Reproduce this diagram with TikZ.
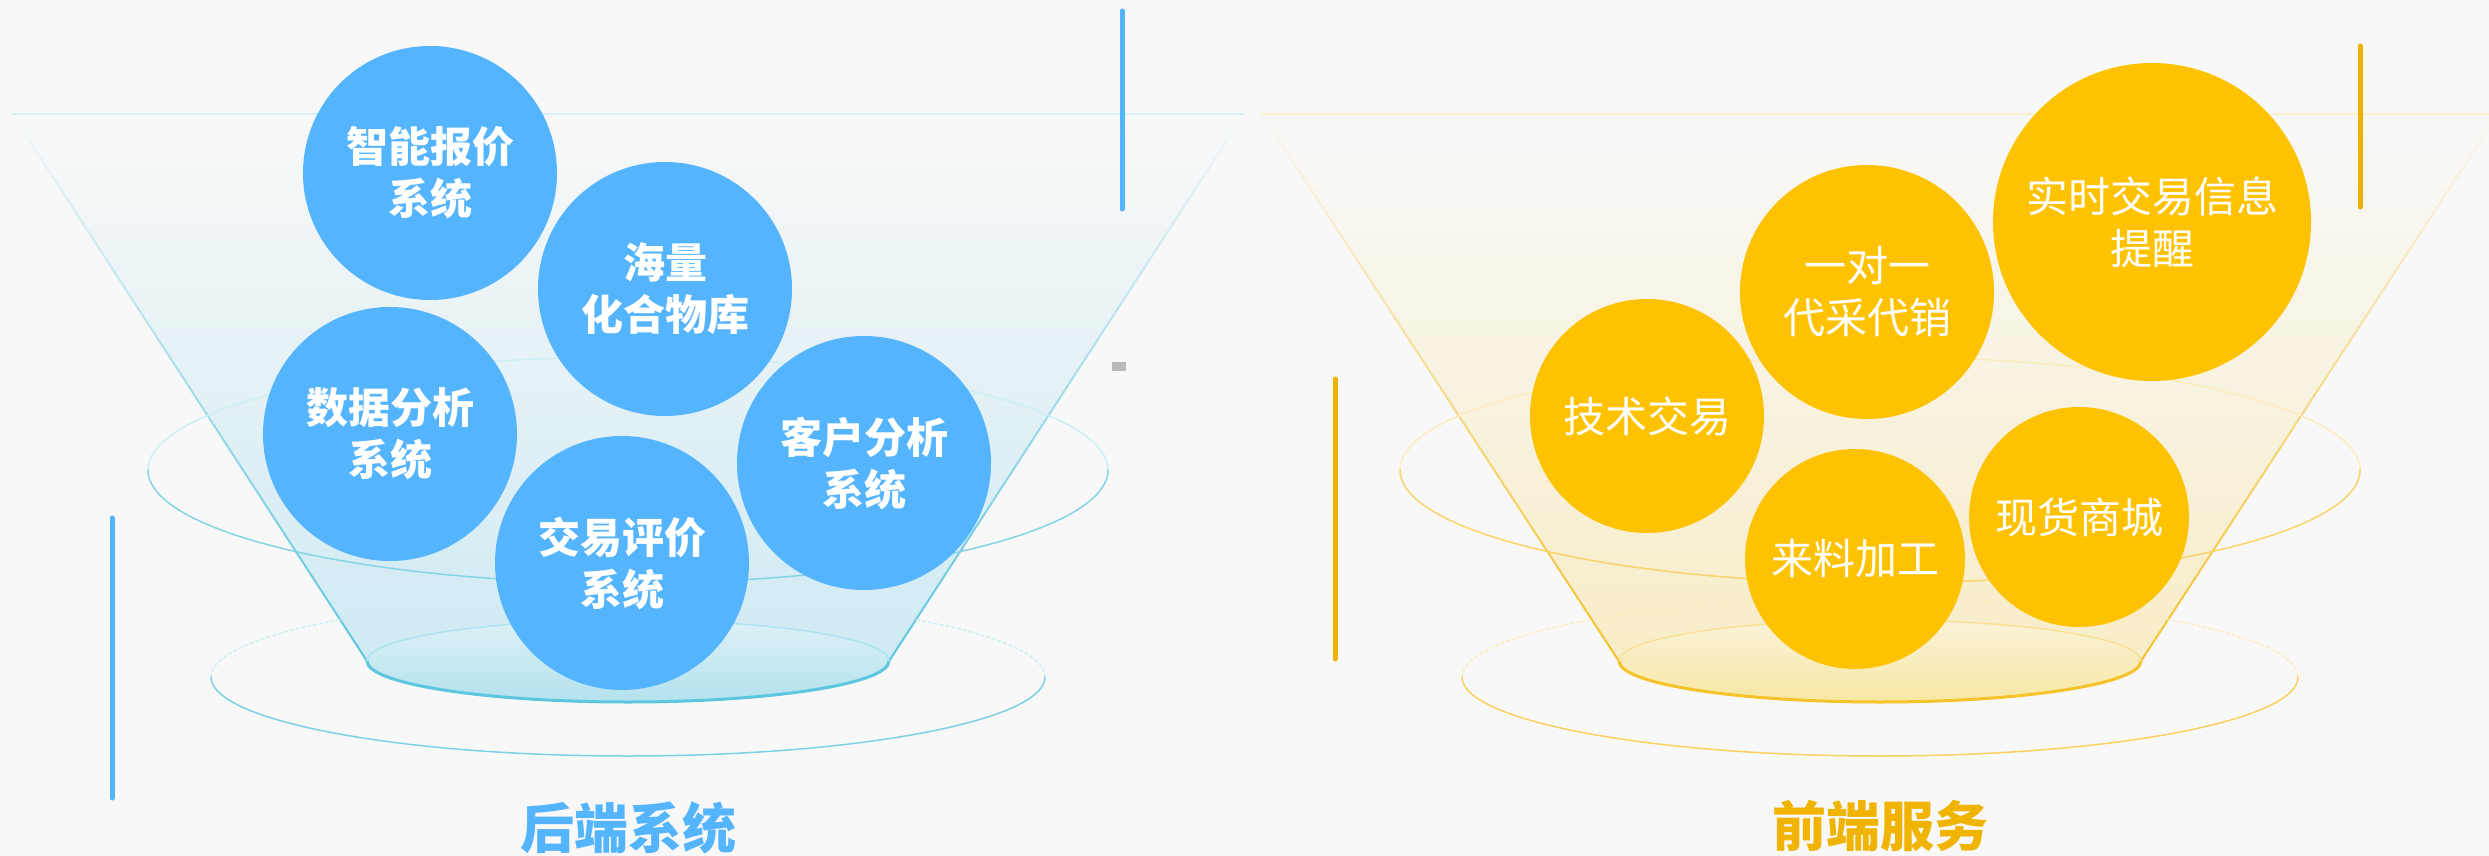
\documentclass[tikz,border=0pt]{standalone}
\usepackage{fontspec}
\newfontfamily\cjk{Noto Sans CJK SC}
\usetikzlibrary{fadings}

\definecolor{bgcol}{HTML}{F8F8F8}
\definecolor{bubbleblue}{HTML}{55B4FE}
\definecolor{bubbleyellow}{HTML}{FFC200}
\definecolor{rimcyan}{HTML}{5CC6DE}
\definecolor{funnelcyan}{HTML}{CFEAF3}
\definecolor{basecyan}{HTML}{B3E2EE}
\definecolor{rimgold}{HTML}{F5C22A}
\definecolor{funnelcream}{HTML}{F8EDC8}
\definecolor{basecream}{HTML}{F7E7A2}
\definecolor{titlegold}{HTML}{F0B400}
\definecolor{bargold}{HTML}{EDB100}

\tikzfading[name=fade top, top color=transparent!100, bottom color=transparent!0]

\begin{document}
\begin{tikzpicture}[x=1pt, y=-1pt, line cap=round, line join=round,
	bubble/.style={circle, inner sep=0pt, minimum size=254pt, align=center,
		text=white, font=\cjk\fontsize{42}{52}\selectfont},
	boldbubble/.style={bubble, font=\cjk\bfseries\fontsize{42}{52}\selectfont},
	panel title/.style={font=\cjk\bfseries\fontsize{54}{60}\selectfont},
	accent/.style={line width=5pt, line cap=round}]
	
	% background and page size
	\fill[bgcol] (0,0) rectangle (2489,856);
	\useasboundingbox (0,0) rectangle (2489,856);
	
	% ===============================
	% ====== LEFT: back-end =========
	% ===============================
	\begin{scope}[shift={(628,0)}]
		% funnel body
		\shade[top color=bgcol, bottom color=funnelcyan] (-616,114) -- (616,114) -- (261,661) -- (-261,661) -- cycle;
		\draw[rimcyan!25, line width=1.5] (-616,114) -- (616,114);
		\draw[rimcyan, line width=2, path fading=fade top] (-616,114) -- (-261,661);
		\draw[rimcyan, line width=2, path fading=fade top] (616,114) -- (261,661);
		
		% rings round the funnel
		\draw[rimcyan!30, line width=1.5] (-480,470) arc[start angle=180, end angle=360, x radius=480, y radius=113];
		\draw[rimcyan!75, line width=1.5] (480,470) arc[start angle=0, end angle=180, x radius=480, y radius=113];
		\draw[rimcyan!30, line width=1.5, dashed] (-417,677) arc[start angle=180, end angle=360, x radius=417, y radius=79];
		\draw[rimcyan!80, line width=1.5] (417,677) arc[start angle=0, end angle=180, x radius=417, y radius=79];
		
		% funnel base
		\shade[top color=funnelcyan!70, bottom color=basecyan] (0,661) ellipse [x radius=261, y radius=41];
		\draw[rimcyan, line width=3] (261,661) arc[start angle=0, end angle=180, x radius=261, y radius=41];
		\draw[rimcyan!50, line width=1.5] (-261,661) arc[start angle=180, end angle=360, x radius=261, y radius=41];
		
		% bubbles
		\node[boldbubble, fill=bubbleblue] (quote) at (-198,173) {智能报价\\系统};
		\node[boldbubble, fill=bubbleblue] (compound) at (37,289) {海量\\化合物库};
		\node[boldbubble, fill=bubbleblue] (data) at (-238,434) {数据分析\\系统};
		\node[boldbubble, fill=bubbleblue] (client) at (236,463) {客户分析\\系统};
		\node[boldbubble, fill=bubbleblue] (rating) at (-6,563) {交易评价\\系统};
		
		\node[panel title, text=bubbleblue] (backend) at (0,828) {后端系统};
	\end{scope}
	
	% accent bars (blue)
	\draw[accent, bubbleblue] (112,518) -- (112,798);
	\draw[accent, bubbleblue] (1122,11) -- (1122,209);
	\fill[gray!55] (1112,362) rectangle (1126,371);
	
	% ===============================
	% ====== RIGHT: front-end =======
	% ===============================
	\begin{scope}[shift={(1880,0)}]
		% funnel body
		\shade[top color=bgcol, bottom color=funnelcream] (-618,114) -- (618,114) -- (261,661) -- (-261,661) -- cycle;
		\draw[rimgold!25, line width=1.5] (-618,114) -- (618,114);
		\draw[rimgold, line width=2, path fading=fade top] (-618,114) -- (-261,661);
		\draw[rimgold, line width=2, path fading=fade top] (618,114) -- (261,661);
		
		% rings round the funnel
		\draw[rimgold!30, line width=1.5] (-480,470) arc[start angle=180, end angle=360, x radius=480, y radius=113];
		\draw[rimgold!70, line width=1.5] (480,470) arc[start angle=0, end angle=180, x radius=480, y radius=113];
		\draw[rimgold!30, line width=1.5, dashed] (-418,677) arc[start angle=180, end angle=360, x radius=418, y radius=79];
		\draw[rimgold!75, line width=1.5] (418,677) arc[start angle=0, end angle=180, x radius=418, y radius=79];
		
		% funnel base
		\shade[top color=funnelcream!70, bottom color=basecream] (0,661) ellipse [x radius=261, y radius=41];
		\draw[rimgold, line width=3] (261,661) arc[start angle=0, end angle=180, x radius=261, y radius=41];
		\draw[rimgold!50, line width=1.5] (-261,661) arc[start angle=180, end angle=360, x radius=261, y radius=41];
		
		% bubbles
		\node[bubble, fill=bubbleyellow, minimum size=234pt] (tech) at (-233,416) {技术交易};
		\node[bubble, fill=bubbleyellow] (agent) at (-13,292) {一对一\\代采代销};
		\node[bubble, fill=bubbleyellow, minimum size=318pt] (alert) at (272,222) {实时交易信息\\提醒};
		\node[bubble, fill=bubbleyellow, minimum size=220pt] (process) at (-25,559) {来料加工};
		\node[bubble, fill=bubbleyellow, minimum size=220pt] (mall) at (199,517) {现货商城};
		
		\node[panel title, text=titlegold] (frontend) at (0,826) {前端服务};
	\end{scope}
	
	% accent bars (gold)
	\draw[accent, bargold] (1335,379) -- (1335,659);
	\draw[accent, bargold] (2360,46) -- (2360,207);
	
\end{tikzpicture}
\end{document}
